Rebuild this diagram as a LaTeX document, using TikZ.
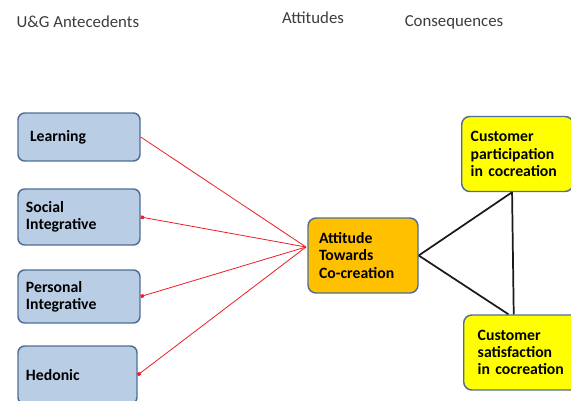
\documentclass[tikz,border=0pt]{standalone}
\usepackage{fontspec}
\setmainfont{Carlito}
\usetikzlibrary{arrows.meta,positioning}
\definecolor{PaleBlue}{HTML}{B9CDE5}
\definecolor{Edge}{HTML}{4F6E96}
\definecolor{Amber}{HTML}{FFC000}
\definecolor{Lemon}{HTML}{FFFF00}
\definecolor{Link}{HTML}{F01C24}
\definecolor{Ink}{HTML}{1A1A1A}

\begin{document}
\begin{tikzpicture}[x=0.75pt,y=-0.75pt,
  font=\fontsize{11.8}{13}\selectfont\bfseries,
  head/.style={font=\fontsize{12.6}{14}\selectfont,color=Ink!85},
  ante/.style={draw=Edge,line width=1.1pt,rounded corners=5pt,fill=PaleBlue,
    text width=#1,align=left,inner xsep=6pt,inner ysep=0pt},
  ante/.default=79.5pt,
  attd/.style={draw=Edge,line width=1.1pt,rounded corners=6pt,fill=Amber,
    minimum width=82.5pt,minimum height=56.25pt,text width=66pt,align=left,
    inner xsep=8.25pt},
  cons/.style={draw=Edge,line width=1.1pt,rounded corners=6pt,fill=Lemon,
    anchor=west,minimum height=56.25pt,text width=70pt,align=left,
    inner ysep=0pt},
  link/.style={Link,line width=0.6pt},
  tip/.style={link,-{Square[length=2.4pt,width=2.4pt]}},
  bond/.style={Ink,line width=1.3pt}
]
\useasboundingbox (0,0) rectangle (571,400);

% Column headings.
\node[head,anchor=west] (hante) at (12,22) {U\&G Antecedents};
\node[head] (hattd) at (313,18) {Attitudes};
\node[head] (hcons) at (454,22) {Consequences};

% Antecedents.
\node[ante,minimum height=36pt] (learn) at (79,137) {\hspace{3pt}Learning};
\node[ante,minimum height=42pt] (social) at (79,217) {Social\\Integrative};
\node[ante,minimum height=39.75pt] (personal) at (79,296.5)
  {Personal\\Integrative};
\node[ante=77.25pt,minimum height=43.5pt] (hedonic) at (77.5,375) {Hedonic};

% Attitude.
\node[attd] (attitude) at (363,255.5) {Attitude\\Towards\\Co-creation};
\coordinate (meet) at (306,247);

% Consequences.
\node[cons,inner xsep=6.75pt] (particip) at (461,154)
  {Customer\\participation\\in cocreation};
\node[cons,inner xsep=10.5pt] (satisf) at (463,352.5)
  {Customer\\satisfaction\\in cocreation};

% Links.
\draw[link] (meet)--(learn.east);
\draw[tip] (meet)--(social.east);
\draw[tip] (meet)--(personal.east);
\draw[tip] (meet)--(hedonic.east);
\draw[bond] (attitude.east)--([xshift=-4pt]particip.south);
\draw[bond] (attitude.east)--([xshift=-12pt]satisf.north);
\draw[bond] ([xshift=-4pt]particip.south)--([xshift=-8pt]satisf.north);
\end{tikzpicture}
\end{document}
